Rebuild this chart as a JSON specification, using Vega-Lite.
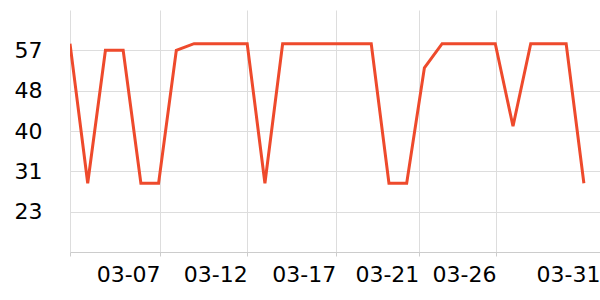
{
  "$schema": "https://vega.github.io/schema/vega-lite/v6.json",
  "width": 530,
  "height": 242,
  "autosize": "none",
  "padding": {"left": 70, "top": 10, "right": 0, "bottom": 48},
  "background": "white",
  "config": {"view": {"stroke": null}},
  "data": {
    "values": [
      {"date": "2024-03-02T00:00:00", "value": 58.4},
      {"date": "2024-03-03T00:00:00", "value": 29},
      {"date": "2024-03-04T00:00:00", "value": 57},
      {"date": "2024-03-05T00:00:00", "value": 57},
      {"date": "2024-03-06T00:00:00", "value": 29},
      {"date": "2024-03-07T00:00:00", "value": 29},
      {"date": "2024-03-08T00:00:00", "value": 57},
      {"date": "2024-03-09T00:00:00", "value": 58.4},
      {"date": "2024-03-10T00:00:00", "value": 58.4},
      {"date": "2024-03-11T00:00:00", "value": 58.4},
      {"date": "2024-03-12T00:00:00", "value": 58.4},
      {"date": "2024-03-13T00:00:00", "value": 29},
      {"date": "2024-03-14T00:00:00", "value": 58.4},
      {"date": "2024-03-15T00:00:00", "value": 58.4},
      {"date": "2024-03-16T00:00:00", "value": 58.4},
      {"date": "2024-03-17T00:00:00", "value": 58.4},
      {"date": "2024-03-18T00:00:00", "value": 58.4},
      {"date": "2024-03-19T00:00:00", "value": 58.4},
      {"date": "2024-03-20T00:00:00", "value": 29},
      {"date": "2024-03-21T00:00:00", "value": 29},
      {"date": "2024-03-22T00:00:00", "value": 53.3},
      {"date": "2024-03-23T00:00:00", "value": 58.4},
      {"date": "2024-03-24T00:00:00", "value": 58.4},
      {"date": "2024-03-25T00:00:00", "value": 58.4},
      {"date": "2024-03-26T00:00:00", "value": 58.4},
      {"date": "2024-03-27T00:00:00", "value": 41},
      {"date": "2024-03-28T00:00:00", "value": 58.4},
      {"date": "2024-03-29T00:00:00", "value": 58.4},
      {"date": "2024-03-30T00:00:00", "value": 58.4},
      {"date": "2024-03-31T00:00:00", "value": 29}
    ]
  },
  "mark": {"type": "line", "color": "#ee4a2c", "strokeWidth": 3, "clip": true},
  "encoding": {
    "x": {
      "field": "date",
      "type": "temporal",
      "scale": {
        "domain": [
          {"year": 2024, "month": 3, "date": 2},
          {"year": 2024, "month": 3, "date": 31, "hours": 21, "minutes": 50}
        ],
        "nice": false
      },
      "axis": {
        "title": null,
        "values": [
          {"year": 2024, "month": 3, "date": 2},
          {"year": 2024, "month": 3, "date": 7, "hours": 2},
          {"year": 2024, "month": 3, "date": 12},
          {"year": 2024, "month": 3, "date": 17},
          {"year": 2024, "month": 3, "date": 21, "hours": 16, "minutes": 30},
          {"year": 2024, "month": 3, "date": 26, "hours": 1},
          {"year": 2024, "month": 3, "date": 31, "hours": 21, "minutes": 50}
        ],
        "format": "%m-%d",
        "labelExpr": "datum.value < time(datetime(2024, 2, 3)) ? '' : datum.label",
        "labelAlign": "right",
        "labelBaseline": "top",
        "labelDx": -2,
        "labelPadding": 8,
        "labelOverlap": false,
        "labelFlush": false,
        "labelFont": "DejaVu Sans",
        "labelFontSize": 22,
        "labelColor": "#000000",
        "tickSize": 4,
        "tickColor": "#cccccc",
        "domainColor": "#cccccc",
        "grid": true,
        "gridColor": "#dddddd"
      }
    },
    "y": {
      "field": "value",
      "type": "quantitative",
      "scale": {"domain": [14.5, 65.5], "nice": false, "zero": false},
      "axis": {
        "title": null,
        "values": [23, 31.5, 40, 48.5, 57],
        "labelExpr": "floor(datum.value)",
        "labelFont": "DejaVu Sans",
        "labelFontSize": 22,
        "labelColor": "#000000",
        "labelPadding": 28,
        "ticks": false,
        "domain": false,
        "grid": true,
        "gridColor": "#dddddd"
      }
    }
  }
}
